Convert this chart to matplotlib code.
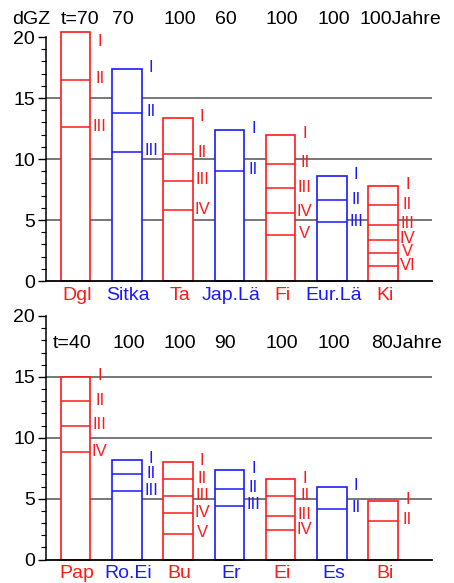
import matplotlib
matplotlib.use('Agg')
import matplotlib.pyplot as plt
from matplotlib.ticker import MultipleLocator

plt.rcParams['font.family'] = ['Liberation Sans', 'DejaVu Sans']

RED = '#ff1a1a'
BLUE = '#1a1aff'
GRID = '#606060'

# Nadelbaeume (oben)
top_species = ['Dgl', 'Sitka', 'Ta', 'Jap.Lä', 'Fi', 'Eur.Lä', 'Ki']
top_colors = [RED, BLUE, RED, BLUE, RED, BLUE, RED]
top_ages = ['70', '70', '100', '60', '100', '100', '100']
top_classes = [
    [20.4, 16.5, 12.6],
    [17.4, 13.8, 10.6],
    [13.4, 10.4, 8.2, 5.8],
    [12.4, 9.0],
    [12.0, 9.6, 7.6, 5.6, 3.8],
    [8.6, 6.6, 4.8],
    [7.8, 6.2, 4.6, 3.4, 2.3, 1.2],
]

# Laubbaeume (unten)
bot_species = ['Pap', 'Ro.Ei', 'Bu', 'Er', 'Ei', 'Es', 'Bi']
bot_colors = [RED, BLUE, RED, BLUE, RED, BLUE, RED]
bot_ages = ['40', '100', '100', '90', '100', '100', '80']
bot_classes = [
    [15.0, 13.0, 11.0, 8.8],
    [8.2, 7.0, 5.6],
    [8.0, 6.6, 5.2, 3.8, 2.1],
    [7.4, 5.8, 4.4],
    [6.6, 5.2, 3.6, 2.4],
    [6.0, 4.2],
    [4.8, 3.2],
]

ROMAN = ['I', 'II', 'III', 'IV', 'V', 'VI']
W = 0.575
FS = 14


def draw_panel(ax, species, colors, ages, classes, age_y, first_dx, last_dx, show_dgz):
    ax.set_xlim(-0.575, 6.95)
    ax.set_ylim(0, 20)
    for y in (5, 10, 15):
        ax.axhline(y, color=GRID, lw=1.2, zorder=1)

    for i, (name, col, vals) in enumerate(zip(species, colors, classes)):
        ax.bar(i, vals[0], width=W, facecolor='white', edgecolor=col,
               lw=1.2, zorder=2, clip_on=False)
        for v in vals[1:]:
            ax.hlines(v, i - W / 2, i + W / 2, color=col, lw=1.1, zorder=3)
        for k, v in enumerate(vals):
            # Beschriftung nicht ueber die Achse hinaus
            ly = min(v + 0.1, 19.6)
            ax.text(i + W / 2 + 0.185, ly, ROMAN[k], color=col, fontsize=FS - 2,
                    ha='center', va='center', clip_on=False)
        ax.text(i + 0.03, -1.15, name, color=col, fontsize=FS,
                ha='center', va='center', clip_on=False)

    # Alter ueber den Saeulen, linksbuendig an der Saeule
    x0 = -W / 2
    for i, a in enumerate(ages):
        if i == 0:
            ax.text(i + x0 + first_dx, age_y, 't=' + a, fontsize=FS,
                    ha='left', va='center', clip_on=False)
        elif i == len(ages) - 1:
            ax.text(i + x0 + last_dx, age_y, a + 'Jahre', fontsize=FS,
                    ha='left', va='center', clip_on=False)
        else:
            ax.text(i + x0, age_y, a, fontsize=FS, ha='left', va='center',
                    clip_on=False)
    if show_dgz:
        ax.text(-1.24, age_y, 'dGZ', fontsize=FS, ha='left', va='center',
                clip_on=False)

    for s in ('top', 'right'):
        ax.spines[s].set_visible(False)
    ax.spines['left'].set_linewidth(1.1)
    ax.spines['bottom'].set_linewidth(1.3)
    ax.spines['left'].set_zorder(4)
    ax.spines['bottom'].set_zorder(4)
    ax.set_xticks([])
    ax.yaxis.set_major_locator(MultipleLocator(5))
    ax.yaxis.set_minor_locator(MultipleLocator(1))
    ax.tick_params(axis='y', which='major', length=5.5, width=1.0, pad=2.5,
                   labelsize=FS)
    ax.tick_params(axis='y', which='minor', length=3.5, width=0.8)


fig = plt.figure(figsize=(4.54, 5.83), dpi=100)
ax1 = fig.add_axes([0.1013, 0.518, 0.850, 0.4185])
ax2 = fig.add_axes([0.1013, 0.040, 0.850, 0.418])

draw_panel(ax1, top_species, top_colors, top_ages, top_classes, 21.4, 0.0, -0.18, True)
draw_panel(ax2, bot_species, bot_colors, bot_ages, bot_classes, 17.75, -0.16, 0.06, False)

fig.savefig('out.png', dpi=100)
